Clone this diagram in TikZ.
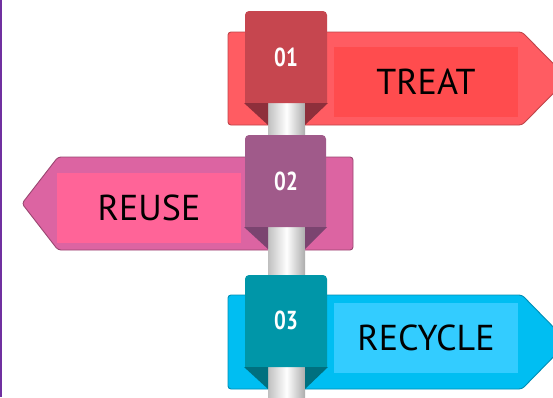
\documentclass[tikz,border=0pt]{standalone}
\usepackage{fontspec}
\setmainfont{PT Sans}
\usetikzlibrary{positioning}
\definecolor{edgeline}{HTML}{7030A0}
\definecolor{treatout}{HTML}{FF5C62}
\definecolor{treatin}{HTML}{FF4C4E}
\definecolor{treatbox}{HTML}{C6464F}
\definecolor{treatfold}{HTML}{8E2F3B}
\definecolor{reuseout}{HTML}{DC64A2}
\definecolor{reusein}{HTML}{FF6498}
\definecolor{reusebox}{HTML}{A05A8A}
\definecolor{reusefold}{HTML}{7B4470}
\definecolor{recycleout}{HTML}{00BEF2}
\definecolor{recyclein}{HTML}{33CCFF}
\definecolor{recyclebox}{HTML}{0096A8}
\definecolor{recyclefold}{HTML}{00707F}
\newcommand{\tabnum}[1]{\scalebox{0.8}[1]{#1}}

\begin{document}
\begin{tikzpicture}[x=1pt, y=-1pt,
    sign/.style={rounded corners=3pt, line width=0.9pt},
    panel/.style={rectangle, minimum width=184pt, minimum height=70pt, inner sep=0pt,
                  font=\fontsize{36}{40}\selectfont, text=black},
    num/.style={font=\bfseries\fontsize{26}{30}\selectfont, text=white, inner sep=0pt},
    pole/.style={left color=gray!50, right color=gray!65, middle color=white},
  ]
  \useasboundingbox (0,0) rectangle (553,397);
  \fill[white] (0,0) rectangle (553,397);
  \begin{scope}
  \clip (0,0) rectangle (553,397);
  \fill[edgeline] (0,0) rectangle (1.6,397);

  % signs
  \draw[sign, fill=treatout, draw=treatout!75!black]
    (228,32) -- (522,32) -- (568,78.5) -- (522,125) -- (228,125) -- cycle;
  \node[panel, fill=treatin] (treat) at (426,82) {TREAT};

  \draw[sign, fill=reuseout, draw=reuseout!70!black]
    (353,157) -- (58,157) -- (22,203.5) -- (58,250) -- (353,250) -- cycle;
  \node[panel, fill=reusein] (reuse) at (149,208) {REUSE};

  \draw[sign, fill=recycleout, draw=recycleout!75!black]
    (228,295) -- (522,295) -- (568,342) -- (522,389) -- (228,389) -- cycle;
  \node[panel, fill=recyclein] (recycle) at (426,338) {RECYCLE};

  % pole
  \shade[pole] (268,100) rectangle (305,397);

  % number tabs
  \fill[treatbox] (245,103) [rounded corners=4pt] -- (245,11) -- (327,11) [sharp corners] -- (327,103) -- cycle;
  \fill[treatfold] (244,103) -- (268,103) -- (268,125) -- cycle;
  \fill[treatfold] (305,103) -- (328,103) -- (305,125) -- cycle;
  \node[num] (n1) at (286,57) {\tabnum{01}};

  \fill[reusebox] (245,227) [rounded corners=4pt] -- (245,135) -- (326,135) [sharp corners] -- (326,227) -- cycle;
  \fill[reusefold] (244,227) -- (268,227) -- (268,249) -- cycle;
  \fill[reusefold] (305,227) -- (327,227) -- (305,249) -- cycle;
  \node[num] (n2) at (286,181) {\tabnum{02}};

  \fill[recyclebox] (245,367) [rounded corners=4pt] -- (245,275) -- (327,275) [sharp corners] -- (327,367) -- cycle;
  \fill[recyclefold] (244,367) -- (268,367) -- (268,389) -- cycle;
  \fill[recyclefold] (305,367) -- (328,367) -- (305,389) -- cycle;
  \node[num] (n3) at (286,320) {\tabnum{03}};
  \end{scope}
\end{tikzpicture}
\end{document}
